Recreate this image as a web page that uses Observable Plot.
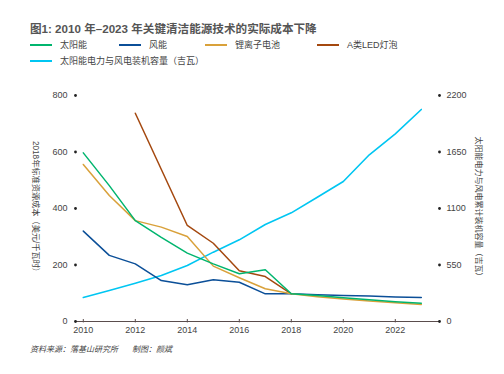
<!DOCTYPE html>
<html><head><meta charset="utf-8">
<script src="https://cdn.jsdelivr.net/npm/d3@7"></script>
<script src="https://cdn.jsdelivr.net/npm/@observablehq/plot@0.6"></script>
<style>
body{margin:0;background:#fff;font-family:"Liberation Sans","Noto Sans CJK SC",sans-serif;}
#wrap{position:relative;width:504px;height:374px;overflow:hidden;}
#title{position:absolute;left:30px;top:20px;font-size:11.6px;font-weight:bold;color:#555;white-space:nowrap;}
.lg{position:absolute;font-size:9px;color:#444;white-space:nowrap;line-height:12px;}
.sw{position:absolute;width:22px;height:2px;}
#chart{position:absolute;left:0;top:80px;}
#cap{position:absolute;left:30px;top:343px;font-size:8px;font-style:italic;color:#444;white-space:nowrap;}
</style></head>
<body><div id="wrap">
<div id="title">图1: 2010 年–2023 年关键清洁能源技术的实际成本下降</div>
<div id="legend"></div>
<div id="chart"></div>
<div id="cap">资料来源：落基山研究所<span style="display:inline-block;width:14px"></span>制图：颜斌</div>
</div>
<script>
const years = [2010,2011,2012,2013,2014,2015,2016,2017,2018,2019,2020,2021,2022,2023];
const solar = [597,481,357,298,242,204,169,183,98,92,84,77,70,65];
const wind = [320,234,204,145,130,148,139,98,98,95,92,90,87,85];
const lithium = [556,446,357,334,301,196,155,116,98,88,80,73,66,60];
const ledYears = [2012,2014,2015,2016,2017,2018];
const led = [737,340,277,180,159,98];
const capacity = [234,302,373,448,545,675,795,944,1058,1210,1363,1623,1827,2064];
const seriesNames = ["太阳能","风能","锂离子电池","A类LED灯泡","太阳能电力与风电装机容量（吉瓦）"];
const colors = ["#00b56e","#0b4f98","#d9a13a","#a4480f","#00c6f2"];
const xTicks = [2010,2012,2014,2016,2018,2020,2022];
const leftTicks = [0,200,400,600,800];
const rightTicks = [0,550,1100,1650,2200];
const leftTitle = "2018年标准资源成本（美元/千瓦时）";
const rightTitle = "太阳能电力与风电累计装机容量（吉瓦）";

const ratio = 800/2200;
const mk = (xs, ys) => xs.map((x,i)=>({x, y: ys[i]}));

// legend
const lgPos = [[30,45],[119,45],[205,45],[317,45],[30,61]];
const lgEl = document.getElementById("legend");
seriesNames.forEach((n,i)=>{
  const [x,y] = lgPos[i];
  const s = document.createElement("div"); s.className="sw";
  s.style.left=x+"px"; s.style.top=(y-1)+"px"; s.style.background=colors[i];
  const t = document.createElement("div"); t.className="lg";
  t.style.left=(x+30)+"px"; t.style.top=(y-6)+"px"; t.textContent=n;
  lgEl.appendChild(s); lgEl.appendChild(t);
});

const xmin = 2009.7, xmax = 2023.7;
const ink = "#444";
const plot = Plot.plot({
  width: 504, height: 262,
  marginLeft: 75, marginRight: 65, marginTop: 15, marginBottom: 21,
  style: {fontFamily: '"Liberation Sans","Noto Sans CJK SC",sans-serif', fontSize: "9px", color: ink},
  x: {domain: [xmin, xmax]},
  y: {domain: [0, 800]},
  marks: [
    Plot.axisX(xTicks, {tickSize: 0, tickPadding: 5, tickFormat: d => String(d), label: null, fill: ink}),
    Plot.axisY(leftTicks, {anchor: "left", tickSize: 0, tickPadding: 8, label: null, fill: ink}),
    Plot.axisY(leftTicks, {anchor: "right", tickSize: 0, tickPadding: 7, label: null, fill: ink, tickFormat: d => String(Math.round(d/ratio))}),
    Plot.ruleY([0], {stroke: "#5a4d4d", strokeWidth: 1.2}),
    Plot.ruleX(xTicks, {y1: -5, y2: 7, stroke: "#5a4d4d", strokeWidth: 1}),
    Plot.dot(leftTicks, {x: xmin, y: d => d, r: 1.4, fill: "#222", stroke: null}),
    Plot.dot(leftTicks, {x: xmax, y: d => d, r: 1.4, fill: "#222", stroke: null}),
    Plot.text([leftTitle], {frameAnchor: "left", textAnchor: "middle", dx: -40, rotate: 90, fill: ink, fontSize: 8.2}),
    Plot.text([rightTitle], {frameAnchor: "right", textAnchor: "middle", dx: 39, rotate: 90, fill: ink, fontSize: 8}),
    Plot.line(mk(years, capacity.map(v => v*ratio)), {x: "x", y: "y", stroke: colors[4], strokeWidth: 1.6}),
    Plot.line(mk(years, wind), {x: "x", y: "y", stroke: colors[1], strokeWidth: 1.5}),
    Plot.line(mk(ledYears, led), {x: "x", y: "y", stroke: colors[3], strokeWidth: 1.5}),
    Plot.line(mk(years, lithium), {x: "x", y: "y", stroke: colors[2], strokeWidth: 1.5}),
    Plot.line(mk(years, solar), {x: "x", y: "y", stroke: colors[0], strokeWidth: 1.5})
  ]
});
document.getElementById("chart").appendChild(plot);
</script>
</body></html>
